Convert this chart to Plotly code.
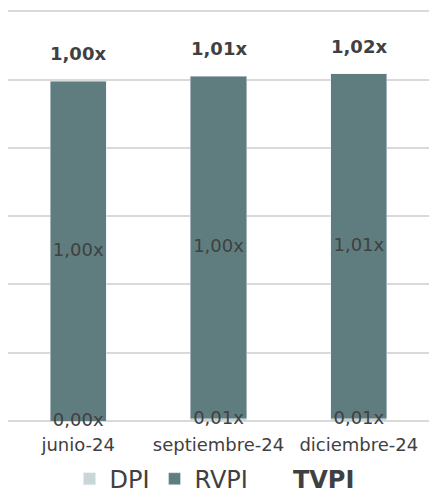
import plotly.graph_objects as go

categories = ["junio-24", "septiembre-24", "diciembre-24"]
dpi = [0.0, 0.006, 0.007]
rvpi = [0.995, 1.004, 1.011]
tvpi = [1.00, 1.01, 1.02]

dpi_lbl = ["0,00x", "0,01x", "0,01x"]
rvpi_lbl = ["1,00x", "1,00x", "1,01x"]
tvpi_lbl = ["1,00x", "1,01x", "1,02x"]

TXT = "#404040"
FONT = "DejaVu Sans, Verdana, sans-serif"

fig = go.Figure()
fig.add_trace(go.Bar(x=categories, y=dpi, name="DPI", marker_color="#C9D6D6"))
fig.add_trace(go.Bar(x=categories, y=rvpi, name="RVPI", marker_color="#5F7D7E"))
# legend-only entry for TVPI
fig.add_trace(go.Scatter(x=[categories[0]], y=[None], mode="markers",
                         marker=dict(size=0.1, color="rgba(0,0,0,0)"),
                         name="<b>TVPI</b>", showlegend=True, hoverinfo="skip"))

# data labels
fig.add_trace(go.Scatter(x=categories, y=[d / 2 for d in dpi], mode="text",
                         text=dpi_lbl, textposition="middle center",
                         textfont=dict(size=18, color=TXT, family=FONT),
                         showlegend=False, cliponaxis=False, hoverinfo="skip"))
fig.add_trace(go.Scatter(x=categories, y=[d + r / 2 for d, r in zip(dpi, rvpi)], mode="text",
                         text=rvpi_lbl, textposition="middle center",
                         textfont=dict(size=18, color=TXT, family=FONT),
                         showlegend=False, cliponaxis=False, hoverinfo="skip"))

for c, d, r, t in zip(categories, dpi, rvpi, tvpi_lbl):
    fig.add_annotation(x=c, y=d + r, text="<b>" + t + "</b>", showarrow=False,
                       yanchor="bottom", yshift=15,
                       font=dict(size=18, color=TXT, family=FONT))

fig.update_layout(
    width=429, height=495,
    margin=dict(l=8, r=0, t=8, b=74, autoexpand=False),
    barmode="stack", bargap=0.6,
    plot_bgcolor="white", paper_bgcolor="white",
    font=dict(family=FONT, color=TXT, size=18),
    legend=dict(orientation="h", x=0.5, xanchor="center", xref="container",
                y=0.032, yanchor="middle", yref="container",
                traceorder="normal", font=dict(size=24, color=TXT, family=FONT)),
    showlegend=True,
)
fig.update_yaxes(range=[0, 1.21], tickvals=[0, 0.2, 0.4, 0.6, 0.8, 1.0, 1.2],
                 showticklabels=False,
                 gridcolor="#D9D9D9", gridwidth=1.5,
                 zeroline=True, zerolinecolor="#D9D9D9", zerolinewidth=1.5)
fig.update_xaxes(showgrid=False, tickfont=dict(size=18, color=TXT, family=FONT),
                 ticklabelstandoff=11, automargin=False)

fig.write_html("out.html")
